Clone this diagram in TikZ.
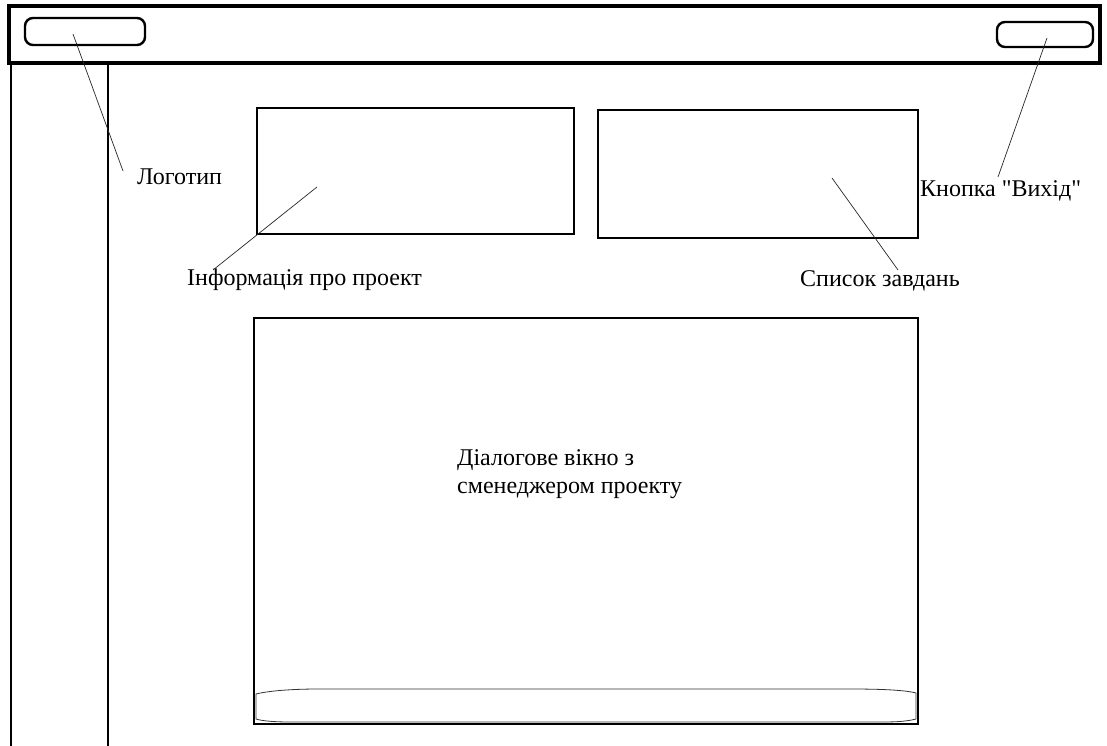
\documentclass[tikz,border=0pt]{standalone}
\usepackage{fontspec}
\setmainfont{Liberation Serif}[Ligatures=TeXOff]
\begin{document}
\begin{tikzpicture}[
  x=1pt, y=-1pt,
  pane/.style={rectangle, draw, line width=2.8pt, anchor=north west, inner sep=0pt, outer sep=0pt},
  btn/.style={rectangle, draw, line width=2.4pt, rounded corners=8pt, inner sep=0pt},
  lbl/.style={font=\rmfamily\fontsize{24}{28}\selectfont, inner sep=0pt, anchor=base west, align=left},
  leader/.style={draw, line width=0.7pt, black!85}
]
\useasboundingbox (0,0) rectangle (1107,746);

% Top bar and side panel
\draw[line width=3.8pt] (9,6) rectangle (1100,63);
\draw[line width=2.6pt] (11,746) -- (11,63) (108,63) -- (108,746);

% Buttons in the top bar
\node[btn, minimum width=120pt, minimum height=27pt] (logo) at (85,31.5) {};
\node[btn, minimum width=96pt, minimum height=25pt] (exit) at (1045,34.5) {};

% Content panes
\node[pane, minimum width=317pt, minimum height=126pt] (info) at (257,108) {};
\node[pane, minimum width=320pt, minimum height=128pt] (tasks) at (598,110) {};
\node[pane, minimum width=664pt, minimum height=406pt] (dialog) at (254,318) {};

% Input strip at the bottom of the dialog
\draw[line width=0.8pt, black!80] (256,694) .. controls (272,690) and (300,689) .. (318,689)
  -- (851,689) .. controls (880,689) and (905,690) .. (916,693) -- (916,719)
  .. controls (905,722) and (890,722) .. (880,722) -- (290,722)
  .. controls (275,722) and (262,721) .. (256,719) -- cycle;

% Labels
\node[lbl] (logolbl) at (137,184) {Логотип};
\node[lbl] (exitlbl) at (920,196) {Кнопка "Вихід"};
\node[lbl] (infolbl) at (187,285) {Інформація про проект};
\node[lbl] (taskslbl) at (800,286) {Список завдань};
\node[lbl] (dialoglbl) at (457,493) {Діалогове вікно з\\сменеджером проекту};

% Leader lines
\coordinate (logoptr) at (73,34);
\coordinate (logoend) at (123,171);
\coordinate (exitptr) at (1047,38);
\coordinate (exitend) at (998,177);
\coordinate (infoptr) at (317,187);
\coordinate (infoend) at (213,270);
\coordinate (tasksptr) at (832,178);
\coordinate (tasksend) at (898,270);
\draw[leader] (logoptr) -- (logoend);
\draw[leader] (exitptr) -- (exitend);
\draw[leader] (infoptr) -- (infoend);
\draw[leader] (tasksptr) -- (tasksend);
\end{tikzpicture}
\end{document}
